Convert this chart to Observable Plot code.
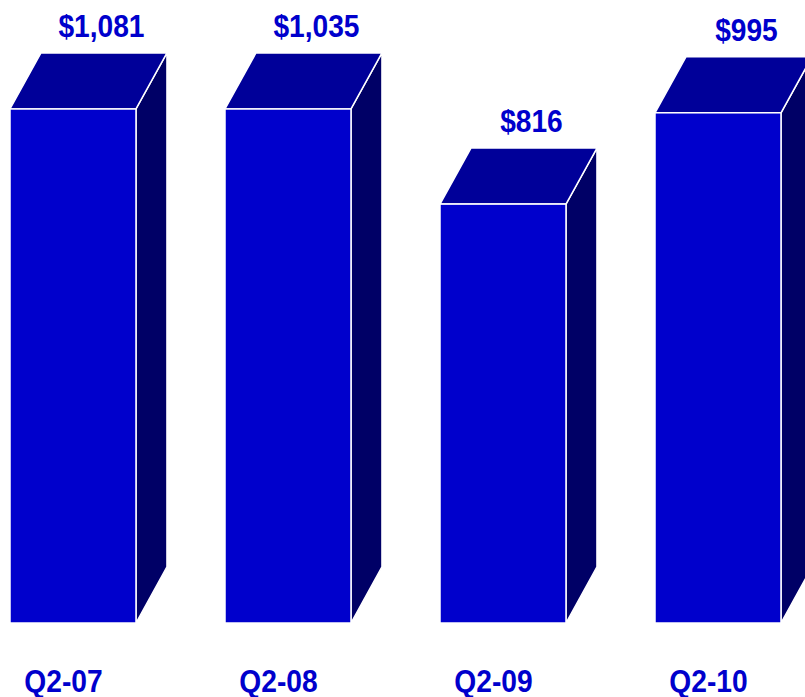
<!DOCTYPE html>
<html>
<head>
<meta charset="utf-8">
<script src="https://cdn.jsdelivr.net/npm/d3@7"></script>
<script src="https://cdn.jsdelivr.net/npm/@observablehq/plot@0.6"></script>
<style>
  html, body { margin: 0; padding: 0; background: #ffffff; overflow: hidden; }
  #chart svg { display: block; }
</style>
</head>
<body>
<div id="chart"></div>
<script>
// Categories and values
const quarters = ["Q2-07", "Q2-08", "Q2-09", "Q2-10"];
const revenue = [1081, 1035, 816, 995];            // printed values ($)
const valueLabels = ["$1,081", "$1,035", "$816", "$995"];
// Drawn bar heights as they appear in the picture (same $ units)
const barLevel = [1081, 1081, 881, 1073];

const rows = quarters.map((q, i) => ({ q, i, value: revenue[i], h: barLevel[i], label: valueLabels[i] }));

// 3D geometry in scale units
const BW = 0.586;   // front-face width (fraction of a slot)
const DX = 0.144;   // depth, x
const DY = 117.8;   // depth, y

const sideData = rows.flatMap(d => [
  { i: d.i, x: d.i + BW, y1: 0, y2: d.h },
  { i: d.i, x: d.i + BW + DX, y1: DY, y2: d.h + DY }
]);
const topData = rows.flatMap(d => [
  { i: d.i, y: d.h, x1: d.i, x2: d.i + BW },
  { i: d.i, y: d.h + DY, x1: d.i + DX, x2: d.i + BW + DX }
]);

const font = "'Liberation Sans', Arial, sans-serif";
const blue = "#0000CC";

const chart = Plot.plot({
  width: 805,
  height: 697,
  margin: 0,
  style: { background: "#ffffff", overflow: "hidden" },
  x: { type: "linear", domain: [-10 / 215, 795 / 215], range: [0, 805], axis: null },
  y: { domain: [0, 1310.2], range: [623, 0], axis: null },
  marks: [
    Plot.areaY(sideData, { x: "x", y1: "y1", y2: "y2", z: "i", fill: "#000066", stroke: "#ffffff", strokeWidth: 1.5 }),
    Plot.areaX(topData, { y: "y", x1: "x1", x2: "x2", z: "i", fill: "#000099", stroke: "#ffffff", strokeWidth: 1.5 }),
    Plot.rect(rows, { x1: d => d.i, x2: d => d.i + BW, y1: 0, y2: "h", fill: blue, stroke: "#ffffff", strokeWidth: 1.5 }),
    Plot.text(rows, { x: d => d.i + BW / 2 + DX - 3 / 215, y: d => d.h + DY, dy: -27, text: "label", fill: blue, fontSize: 32, fontWeight: "bold", fontFamily: font }),
    Plot.text(rows, { x: d => d.i + BW / 2 - 10 / 215, y: 0, dy: 58, text: "q", fill: blue, fontSize: 32, fontWeight: "bold", fontFamily: font })
  ]
});
document.getElementById("chart").appendChild(chart);

// Condense the bold sans text (the reference uses a narrow bold face)
chart.querySelectorAll("text").forEach(el => {
  const L = el.getComputedTextLength();
  if (L > 0) {
    el.setAttribute("textLength", (L * 0.88).toFixed(1));
    el.setAttribute("lengthAdjust", "spacingAndGlyphs");
  }
});
</script>
</body>
</html>
